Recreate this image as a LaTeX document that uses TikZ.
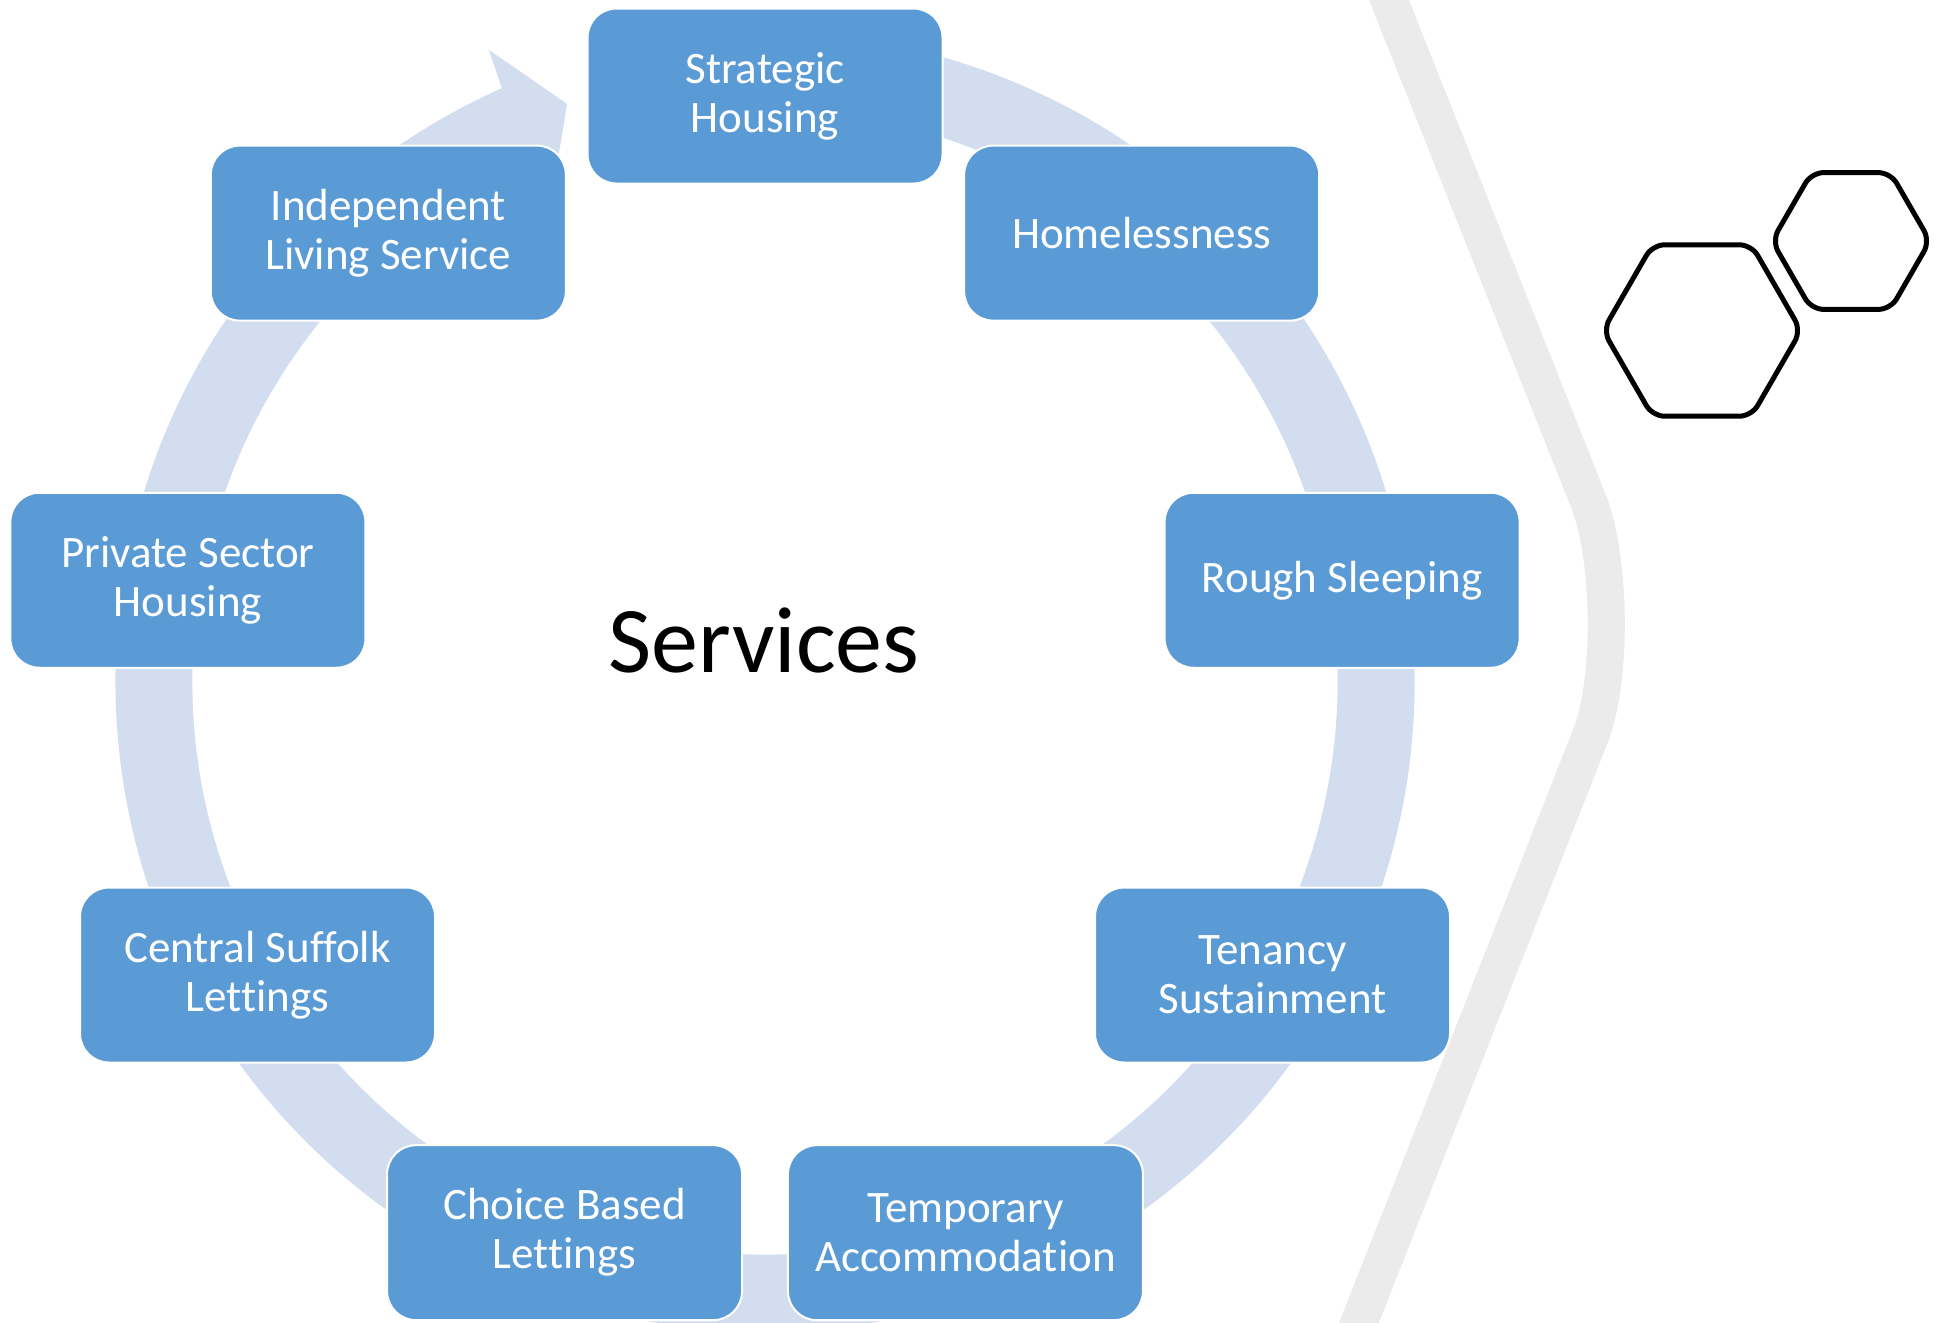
\documentclass[tikz,border=0pt]{standalone}
\usepackage{fontspec}
\setmainfont[Ligatures=NoCommon]{Carlito}
\definecolor{boxblue}{HTML}{5B9BD5}
\definecolor{ringblue}{HTML}{D2DEEF}
\definecolor{stripegray}{HTML}{EBEBEB}
\tikzset{
  svcbox/.style={draw=white, line width=1pt, fill=boxblue, rounded corners=14.5pt,
    minimum width=177.5pt, minimum height=87.5pt, text=white, align=center,
    font=\fontsize{22.5pt}{24.5pt}\selectfont, inner sep=0pt},
  hexline/.style={draw=black, line width=2.5pt, rounded corners=6pt, line join=round},
  stripeline/.style={draw=stripegray, line width=18.5pt}
}
\begin{document}
\begin{tikzpicture}[x=0.5pt,y=-0.5pt]
\useasboundingbox (0,0) rectangle (1934,1323);
\fill[white] (0,0) rectangle (1934,1323);
% grey chevron stripe
\draw[stripeline] (1381,-20) -- (1588,500) .. controls (1611,557) and (1613,680) .. (1590,737) -- (1347,1353);
% hexagons
\draw[hexline] ({1851+79},241) -- ({1851+39.5},{241+68.4}) -- ({1851-39.5},{241+68.4}) -- ({1851-79},241) -- ({1851-39.5},{241-68.4}) -- ({1851+39.5},{241-68.4}) -- cycle;
\draw[hexline] ({1702+99},330.5) -- ({1702+49.5},{330.5+85.7}) -- ({1702-49.5},{330.5+85.7}) -- ({1702-99},330.5) -- ({1702-49.5},{330.5-85.7}) -- ({1702+49.5},{330.5-85.7}) -- cycle;
% cycle ring and boxes
\begin{scope}[shift={(765,682)}, yscale=-1]
\fill[ringblue] (100:649.5) arc[start angle=100, end angle=-246.1, radius=649.5]
  -- (-246.4:690) -- (-251.1:611) -- (-246.4:532) -- (-246.1:572.5)
  arc[start angle=-246.1, end angle=100, radius=572.5] -- cycle;
\node[svcbox] (sh) at (90:586) {Strategic\\Housing};
\node[svcbox] (hl) at (50:586) {Homelessness};
\node[svcbox] (rs) at (10:586) {Rough Sleeping};
\node[svcbox] (ts) at (-30:586) {Tenancy\\Sustainment};
\node[svcbox] (ta) at (-70:586) {Temporary\\Accommodation};
\node[svcbox] (cb) at (-110:586) {Choice Based\\Lettings};
\node[svcbox] (cs) at (-150:586) {Central Suffolk\\Lettings};
\node[svcbox] (ps) at (170:586) {Private Sector\\Housing};
\node[svcbox] (il) at (130:586) {Independent\\Living Service};
\end{scope}
\node[anchor=base, font=\fontsize{47pt}{56pt}\selectfont, inner sep=0pt] (title) at (764,672) {Services};
\end{tikzpicture}
\end{document}
